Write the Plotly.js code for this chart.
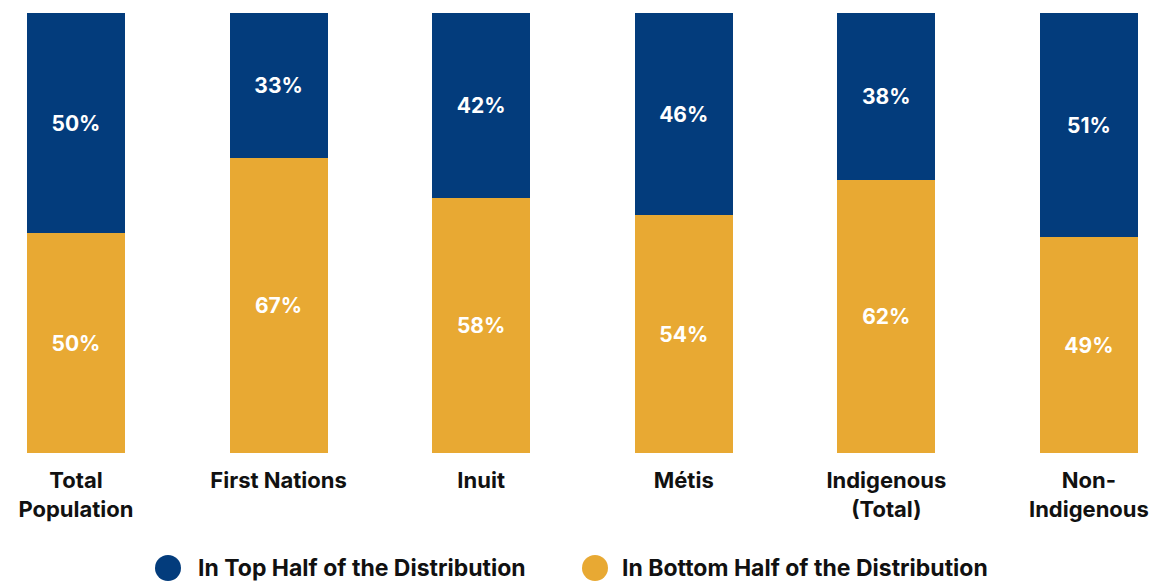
<!DOCTYPE html>
<html>
<head>
<meta charset="utf-8">
<script src="https://cdn.plot.ly/plotly-3.0.1.min.js"></script>
<style>html,body{margin:0;padding:0;background:#fff;}#chart{width:1158px;height:585px;}</style>
</head>
<body>
<div id="chart"></div>
<script>
const categories = ["Total<br>Population", "First Nations", "Inuit", "Métis", "Indigenous<br>(Total)", "Non-<br>Indigenous"];
const topHalf = [50, 33, 42, 46, 38, 51];
const bottomHalf = [50, 67, 58, 54, 62, 49];
const seriesNames = ["In Top Half of the Distribution", "In Bottom Half of the Distribution"];
const blue = "#033c7c";
const gold = "#e8a933";

const W = 1158, H = 585, T = 13, B = 132;
const plotH = H - T - B;
const legendPy = 568;
const legY = (H - B - legendPy) / plotH;

const xIdx = categories.map((_, i) => i);
const fontFam = "Inter, 'Noto Sans', sans-serif";

const traces = [
  {
    type: "bar", x: xIdx, y: bottomHalf, name: seriesNames[1],
    marker: {color: gold}, width: 0.484,
    text: bottomHalf.map(v => v + "%"), textposition: "inside", insidetextanchor: "middle",
    textfont: {color: "#ffffff", size: 21, family: fontFam, weight: 700},
    showlegend: false, hoverinfo: "skip"
  },
  {
    type: "bar", x: xIdx, y: topHalf, name: seriesNames[0],
    marker: {color: blue}, width: 0.484,
    text: topHalf.map(v => v + "%"), textposition: "inside", insidetextanchor: "middle",
    textfont: {color: "#ffffff", size: 21, family: fontFam, weight: 700},
    showlegend: false, hoverinfo: "skip"
  }
];

const layout = {
  width: W, height: H,
  margin: {l: 0, r: 0, t: T, b: B, pad: 0},
  paper_bgcolor: "#ffffff", plot_bgcolor: "#ffffff",
  barmode: "stack",
  showlegend: false,
  font: {family: fontFam, color: "#111111"},
  xaxis: {
    range: [-0.375, 5.341], tickmode: "array", tickvals: xIdx, ticktext: categories,
    showgrid: false, zeroline: false, showline: false, ticks: "",
    ticklabelstandoff: 12,
    tickfont: {size: 22, family: fontFam, color: "#111111", weight: 700},
    fixedrange: true
  },
  yaxis: {range: [0, 100], visible: false, fixedrange: true},
  shapes: [
    {type: "circle", xref: "paper", yref: "paper", xsizemode: "pixel", ysizemode: "pixel",
     xanchor: 168 / W, yanchor: legY, x0: -13, x1: 13, y0: -13, y1: 13,
     fillcolor: blue, line: {width: 0}},
    {type: "circle", xref: "paper", yref: "paper", xsizemode: "pixel", ysizemode: "pixel",
     xanchor: 595 / W, yanchor: legY, x0: -13, x1: 13, y0: -13, y1: 13,
     fillcolor: gold, line: {width: 0}}
  ],
  annotations: [
    {text: seriesNames[0], xref: "paper", yref: "paper", x: 196 / W, y: legY,
     xanchor: "left", yanchor: "middle", showarrow: false,
     font: {size: 23, family: fontFam, color: "#111111", weight: 700}},
    {text: seriesNames[1], xref: "paper", yref: "paper", x: 620 / W, y: legY,
     xanchor: "left", yanchor: "middle", showarrow: false,
     font: {size: 23, family: fontFam, color: "#111111", weight: 700}}
  ]
};

Plotly.newPlot("chart", traces, layout, {displayModeBar: false, staticPlot: true});
</script>
</body>
</html>
